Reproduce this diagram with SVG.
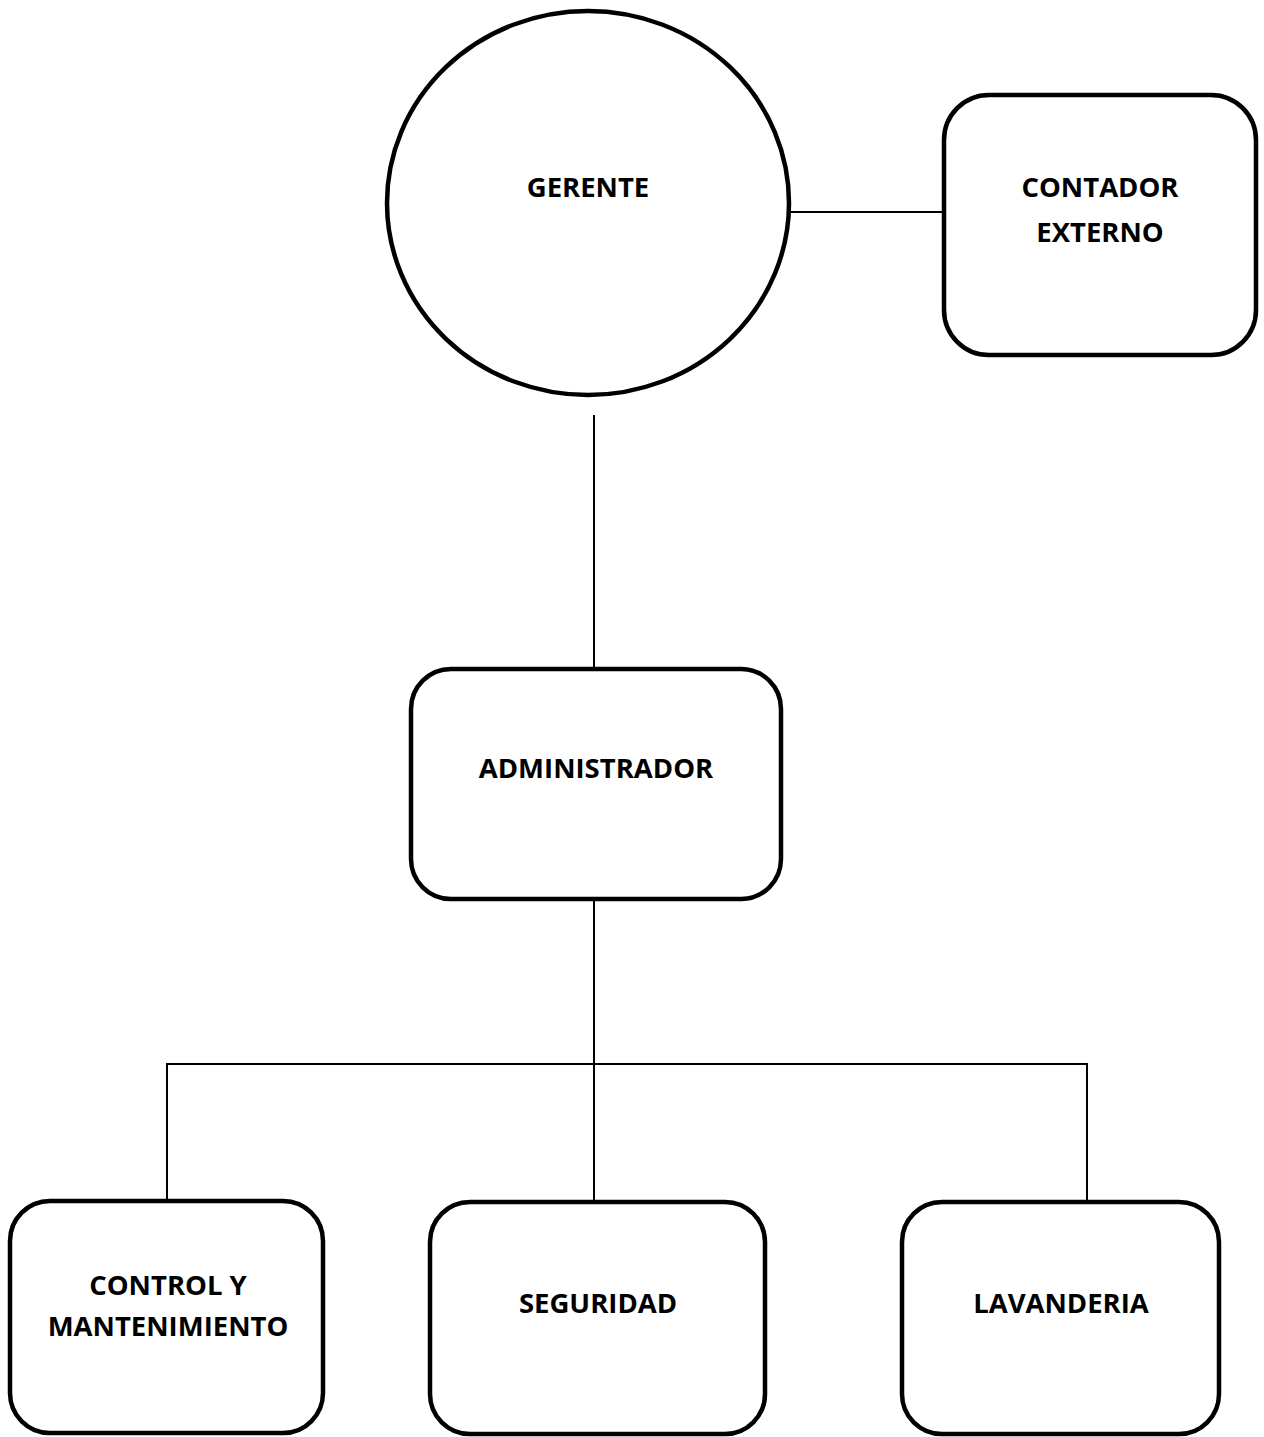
<svg xmlns="http://www.w3.org/2000/svg" width="1264" height="1437" viewBox="0 0 1264 1437">
<style>
.box{fill:#fff;stroke:#000;stroke-width:4.5}
.conn{fill:none;stroke:#000;stroke-width:2}
.lbl{font-family:"Open Sans","Liberation Sans",sans-serif;font-weight:bold;font-size:27.5px;fill:#000;text-anchor:middle}
</style>
<rect width="1264" height="1437" fill="#fff"/>
<g id="connectors">
<line class="conn" x1="790" y1="212" x2="944" y2="212"/>
<line class="conn" x1="594" y1="415" x2="594" y2="669"/>
<line class="conn" x1="594" y1="899" x2="594" y2="1202"/>
<polyline class="conn" points="167,1201 167,1064 1087,1064 1087,1202"/>
</g>
<g id="gerente">
<ellipse class="box" cx="588" cy="203" rx="201" ry="192"/>
<text class="lbl" x="588" y="197">GERENTE</text>
</g>
<g id="contador">
<rect class="box" x="944" y="95" width="312" height="260" rx="45"/>
<text class="lbl" x="1100" y="197">CONTADOR</text>
<text class="lbl" x="1100" y="242">EXTERNO</text>
</g>
<g id="administrador">
<rect class="box" x="411" y="669" width="370" height="230" rx="40"/>
<text class="lbl" x="596" y="778">ADMINISTRADOR</text>
</g>
<g id="control">
<rect class="box" x="10" y="1201" width="313" height="232" rx="40"/>
<text class="lbl" x="168" y="1295">CONTROL Y</text>
<text class="lbl" x="168" y="1336">MANTENIMIENTO</text>
</g>
<g id="seguridad">
<rect class="box" x="430" y="1202" width="335" height="232" rx="40"/>
<text class="lbl" x="598" y="1313">SEGURIDAD</text>
</g>
<g id="lavanderia">
<rect class="box" x="902" y="1202" width="317" height="232" rx="40"/>
<text class="lbl" x="1061" y="1313">LAVANDERIA</text>
</g>
</svg>
